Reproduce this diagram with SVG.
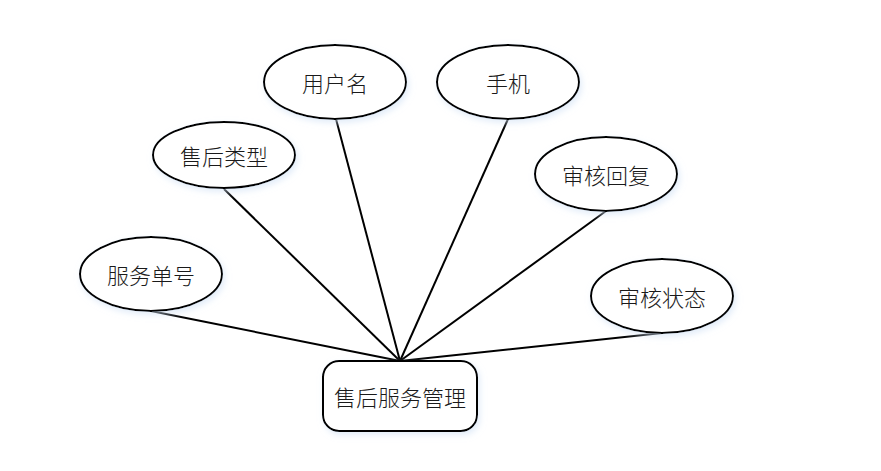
<svg xmlns="http://www.w3.org/2000/svg" width="881" height="471" viewBox="0 0 881 471">
<defs>
<filter id="glow" x="-20%" y="-20%" width="140%" height="140%">
<feGaussianBlur in="SourceAlpha" stdDeviation="3"/>
<feOffset dx="2" dy="3" result="b"/>
<feFlood flood-color="#cfe0f5" flood-opacity="0.6"/>
<feComposite in2="b" operator="in"/>
<feMerge><feMergeNode/><feMergeNode in="SourceGraphic"/></feMerge>
</filter>
</defs>
<style>
.shape{fill:#fff;stroke:#000;stroke-width:2;filter:url(#glow)}
.lbl{font-family:"Noto Sans CJK SC","Noto Sans",sans-serif;font-size:22px;font-weight:300;fill:#1a1a1a;text-anchor:middle;dominant-baseline:central}
.edge{stroke:#000;stroke-width:2;fill:none}
</style>
<rect width="881" height="471" fill="#fff"/>
<g id="connectors">
<line class="edge" x1="151" y1="311" x2="400" y2="361"/>
<line class="edge" x1="224" y1="189" x2="400" y2="361"/>
<line class="edge" x1="336" y1="119" x2="400" y2="361"/>
<line class="edge" x1="508" y1="119" x2="400" y2="361"/>
<line class="edge" x1="606" y1="211" x2="400" y2="361"/>
<line class="edge" x1="662" y1="333" x2="400" y2="361"/>
</g>
<g id="main">
<rect class="shape" x="323" y="361" width="154" height="70" rx="16"/>
<text class="lbl" x="400" y="396">售后服务管理</text>
</g>
<g id="n1">
<ellipse class="shape" cx="151" cy="274" rx="71" ry="37"/>
<text class="lbl" x="151" y="274">服务单号</text>
</g>
<g id="n2">
<ellipse class="shape" cx="224" cy="155" rx="71" ry="33"/>
<text class="lbl" x="224" y="155">售后类型</text>
</g>
<g id="n3">
<ellipse class="shape" cx="335" cy="82" rx="71" ry="37"/>
<text class="lbl" x="335" y="82">用户名</text>
</g>
<g id="n4">
<ellipse class="shape" cx="508" cy="82" rx="71" ry="37"/>
<text class="lbl" x="508" y="82">手机</text>
</g>
<g id="n5">
<ellipse class="shape" cx="606" cy="174" rx="71" ry="37"/>
<text class="lbl" x="606" y="174">审核回复</text>
</g>
<g id="n6">
<ellipse class="shape" cx="662" cy="296" rx="71" ry="37"/>
<text class="lbl" x="662" y="296">审核状态</text>
</g>
</svg>
